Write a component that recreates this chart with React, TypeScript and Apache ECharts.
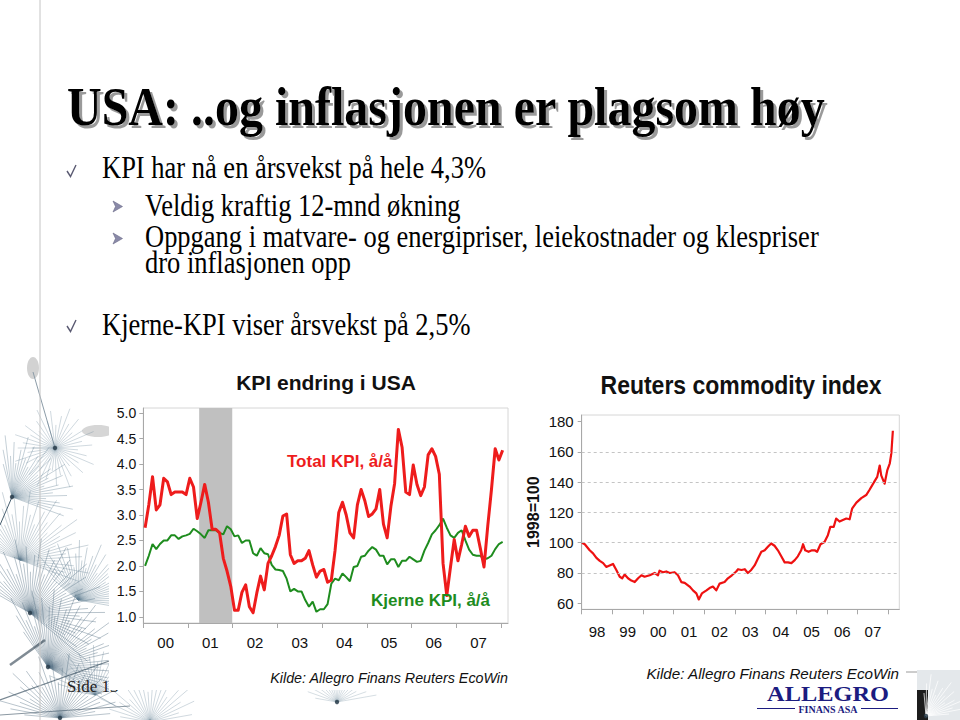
import React, { useEffect, useRef } from "react";
import * as echarts from "echarts";

// ---------- Left chart: KPI endring i USA (monthly, Jan 2000 - Jan 2008) ----------
const kpiYearLabels = ["00", "01", "02", "03", "04", "05", "06", "07"];
const kpiTotal = [
  2.75, 3.2, 3.75, 3.1, 3.2, 3.72, 3.65, 3.4, 3.45, 3.45, 3.45, 3.4,
  3.72, 3.55, 2.93, 3.25, 3.6, 3.25, 2.72, 2.72, 2.65, 2.15, 1.9, 1.6,
  1.13, 1.13, 1.48, 1.63, 1.2, 1.08, 1.47, 1.8, 1.53, 2.05, 2.2, 2.38,
  2.6, 2.98, 3.02, 2.22, 2.05, 2.1, 2.1, 2.15, 2.3, 2.02, 1.78, 1.9,
  1.93, 1.68, 1.72, 2.3, 3.05, 3.25, 3.0, 2.65, 2.55, 3.2, 3.5, 3.28,
  2.97, 3.02, 3.12, 3.5, 2.82, 2.55, 3.17, 3.62, 4.68, 4.33, 3.45, 3.4,
  3.98, 3.6, 3.38, 3.55, 4.18, 4.3, 4.15, 3.8, 2.05, 1.42, 1.98, 2.52,
  2.1, 2.42, 2.78, 2.58, 2.7, 2.7, 2.35, 1.98, 2.78, 3.5, 4.3, 4.08,
  4.27,
];
const kpiCore = [
  2.0, 2.2, 2.43, 2.33, 2.43, 2.5, 2.5, 2.6, 2.6, 2.53, 2.58, 2.6,
  2.63, 2.73, 2.68, 2.62, 2.55, 2.7, 2.7, 2.7, 2.65, 2.62, 2.78, 2.72,
  2.58, 2.6, 2.45, 2.5, 2.5, 2.25, 2.2, 2.35, 2.25, 2.23, 2.02, 1.93,
  1.92, 1.9, 1.75, 1.5, 1.55, 1.5, 1.5, 1.33, 1.2, 1.3, 1.1, 1.15,
  1.15, 1.25, 1.65, 1.75, 1.72, 1.85, 1.78, 1.7, 1.98, 2.0, 2.18, 2.2,
  2.3, 2.37, 2.32, 2.2, 2.2, 2.03, 2.13, 2.13, 1.98, 2.1, 2.1, 2.18,
  2.13, 2.08, 2.1, 2.3, 2.45, 2.62, 2.7, 2.8, 2.93, 2.75, 2.6, 2.55,
  2.65, 2.7, 2.5, 2.32, 2.22, 2.2, 2.2, 2.13, 2.15, 2.2, 2.33, 2.43,
  2.47,
];
const kpiStartYear = 2000;
const recessionStart = 2001.25;
const recessionEnd = 2001.99;
const kpiYTicks = [1.0, 1.5, 2.0, 2.5, 3.0, 3.5, 4.0, 4.5, 5.0];

// ---------- Right chart: Reuters commodity index (1998=100) ----------
const comYearLabels = ["98", "99", "00", "01", "02", "03", "04", "05", "06", "07"];
const comDates = [
  1998.01, 1998.1, 1998.26, 1998.37, 1998.48, 1998.59, 1998.7, 1998.8, 1998.91,
  1999.02, 1999.13, 1999.24, 1999.32, 1999.4, 1999.51, 1999.62, 1999.73, 1999.84, 1999.95,
  2000.05, 2000.22, 2000.38, 2000.49, 2000.54, 2000.65, 2000.76, 2000.87,
  2001.03, 2001.14, 2001.25, 2001.36, 2001.52, 2001.63, 2001.74, 2001.82, 2001.92,
  2002.07, 2002.17, 2002.28, 2002.39, 2002.5, 2002.66, 2002.77, 2002.9,
  2003.04, 2003.1, 2003.21, 2003.32, 2003.42, 2003.53, 2003.64, 2003.75, 2003.86, 2003.97,
  2004.08, 2004.18, 2004.29, 2004.4, 2004.51, 2004.62, 2004.73, 2004.84, 2004.95,
  2005.05, 2005.16, 2005.22, 2005.29, 2005.4, 2005.51, 2005.6, 2005.68, 2005.79, 2005.92,
  2006.03, 2006.11, 2006.22, 2006.3, 2006.41, 2006.52, 2006.63, 2006.74, 2006.82, 2006.96,
  2007.12, 2007.28, 2007.39, 2007.55, 2007.64, 2007.72, 2007.77, 2007.88, 2007.97,
  2008.05, 2008.1, 2008.15,
];
const comValues = [
  100, 99, 95, 93, 90, 88, 86.5, 84, 85,
  86, 82, 77.5, 76.5, 79, 76.5, 75, 74, 76.5, 78.5,
  77.5, 78.5, 80, 78.5, 81.5, 80.5, 81, 80,
  80.5, 78.5, 74, 73.5, 71, 68.5, 66.5, 62.5, 66.5,
  68.5, 70, 71, 68.5, 73, 74, 76.5, 78.5,
  81, 82.5, 82, 82.5, 80, 82, 85, 89.5, 94, 95,
  97.5, 99.5, 98, 95, 91, 87, 87, 86.5, 88.5,
  91, 95, 99, 95, 94, 95, 95, 94, 99, 100.5,
  105, 110.5, 110.5, 116, 114, 115, 116, 115.5, 122.5, 126.5,
  129.5, 131.5, 135, 140.5, 143.5, 151, 144.5, 139, 148,
  152.5, 159, 174,
];
const comStartYear = 1998;
const comYTicks = [60, 80, 100, 120, 140, 160, 180];
const comGridValues = [80, 100, 120, 140, 160];

// ---------- Slide texts ----------
const slideTitle = "USA: ..og inflasjonen er plagsom høy";
const bulletLines = [
  "KPI har nå en årsvekst på hele 4,3%",
  "Veldig kraftig 12-mnd økning",
  "Oppgang i matvare- og energipriser, leiekostnader og klespriser",
  "dro inflasjonen opp",
  "Kjerne-KPI viser årsvekst på 2,5%",
];
const sourceText = "Kilde: Allegro Finans Reuters EcoWin";

const SANS = '"Liberation Sans", Arial, sans-serif';
const SERIF = '"Liberation Serif", "Times New Roman", serif';

function seedLines(cx: number, cy: number, r: number, a0: number, a1: number, n: number, color: string, op: number, dot = true) {
  const out: any[] = [];
  for (let i = 0; i < n; i++) {
    const a = ((a0 + ((a1 - a0) * i) / Math.max(1, n - 1)) * Math.PI) / 180;
    const len = r * (0.55 + 0.45 * (((i * 7) % 5) / 4));
    out.push({
      type: "line",
      z: 0,
      silent: true,
      shape: { x1: cx, y1: cy, x2: cx + Math.cos(a) * len, y2: cy + Math.sin(a) * len },
      style: { stroke: color, lineWidth: 0.8, opacity: op },
    });
  }
  if (dot) out.push({ type: "circle", z: 0, silent: true, shape: { cx, cy, r: 2.2 }, style: { fill: "#2c3e4c", opacity: 0.85 } });
  return out;
}

export default function App() {
  const ref = useRef<HTMLDivElement>(null);

  useEffect(() => {
    if (!ref.current) return;
    const chart = echarts.init(ref.current, undefined, { renderer: "svg" });

    const totalData = kpiTotal.map((v, i) => [kpiStartYear + i / 12 + 0.04, v]);
    const coreData = kpiCore.map((v, i) => [kpiStartYear + i / 12 + 0.04, v]);
    const comData = comValues.map((v, i) => [comDates[i], v]);

    const kpiTickX = kpiYearLabels.map((_, i) => kpiStartYear + i).concat([kpiStartYear + kpiYearLabels.length]);
    const kpiLabelX = kpiYearLabels.map((_, i) => kpiStartYear + i + 0.5);
    const comTickX = comYearLabels.map((_, i) => comStartYear + i).concat([comStartYear + comYearLabels.length]);
    const comLabelX = comYearLabels.map((_, i) => comStartYear + i + 0.5);

    const deco: any[] = [];
    // left dandelions
    deco.push({ type: "ellipse", z: 0, silent: true, shape: { cx: 33, cy: 368, rx: 6, ry: 11 }, style: { fill: "#d2d2d2" } });
    deco.push({ type: "ellipse", z: 0, silent: true, shape: { cx: 98, cy: 431, rx: 16, ry: 6 }, style: { fill: "#d6d6d6" } });
    deco.push({ type: "line", z: 0, silent: true, shape: { x1: 33, y1: 372, x2: 55, y2: 448 }, style: { stroke: "#8c9ca8", lineWidth: 1 } });
    deco.push(...seedLines(55, 448, 42, -180, 180, 40, "#6a8699", 0.4));
    deco.push({ type: "line", z: 0, silent: true, shape: { x1: 12, y1: 497, x2: 0, y2: 525 }, style: { stroke: "#4a6070", lineWidth: 1 } });
    deco.push(...seedLines(12, 497, 62, -105, 20, 30, "#5d7b8f", 0.45));
    deco.push(...seedLines(20, 560, 70, -160, 20, 40, "#5d7b8f", 0.4, false));
    deco.push(...seedLines(30, 613, 75, -150, 40, 48, "#4f6c80", 0.5));
    deco.push(...seedLines(78, 600, 60, -140, 10, 36, "#5d7b8f", 0.45, false));
    deco.push(...seedLines(48, 667, 78, -125, 30, 48, "#4f6c80", 0.5));
    deco.push(...seedLines(60, 718, 65, -175, -5, 32, "#4f6c80", 0.5));
    deco.push(...seedLines(95, 695, 50, -170, -20, 24, "#5d7b8f", 0.4, false));
    deco.push(...seedLines(150, 722, 55, -170, -10, 22, "#6a8699", 0.4));
    deco.push(...seedLines(337, 702, 40, -170, -10, 18, "#6a8699", 0.35));
    deco.push({ type: "line", z: 0, silent: true, shape: { x1: 0, y1: 700, x2: 140, y2: 650 }, style: { stroke: "#3e5464", lineWidth: 1.3, opacity: 0.7 } });
    deco.push({ type: "line", z: 0, silent: true, shape: { x1: 0, y1: 715, x2: 130, y2: 706 }, style: { stroke: "#3e5464", lineWidth: 1, opacity: 0.6 } });
    deco.push({ type: "line", z: 0, silent: true, shape: { x1: 10, y1: 665, x2: 45, y2: 640 }, style: { stroke: "#2c3e4c", lineWidth: 2.5, opacity: 0.6 } });
    // right-bottom dandelion image
    deco.push({ type: "rect", z: 0, silent: true, shape: { x: 917, y: 670, width: 43, height: 50 }, style: { fill: "#e4e8eb" } });
    deco.push({ type: "rect", z: 0, silent: true, shape: { x: 917, y: 690, width: 11, height: 30 }, style: { fill: "#1c1c1c" } });
    deco.push(...seedLines(926, 716, 42, -95, -5, 16, "#ffffff", 0.9));
    deco.push({ type: "line", z: 0, silent: true, shape: { x1: 906, y1: 672, x2: 917, y2: 672 }, style: { stroke: "#9a9a9a", lineWidth: 1 } });

    const graphic: any[] = [
      ...deco,
      { type: "line", z: 0.6, silent: true, shape: { x1: 40, y1: 0, x2: 40, y2: 720 }, style: { stroke: "#c4c4c4", lineWidth: 1 } },
      { type: "text", z: 0.2, x: 67, y: 686, style: { text: "Side 13", fill: "#222", fontSize: 17, fontFamily: SERIF, align: "left", verticalAlign: "middle" } },
      { type: "text", z: 0.2, x: 828, y: 694, scaleX: 1.22, style: { text: "ALLEGRO", fill: "#1c1c80", fontSize: 20, fontWeight: "bold", fontFamily: SERIF, align: "center", verticalAlign: "middle" } },
      { type: "text", z: 0.2, x: 828, y: 709, style: { text: "FINANS ASA", fill: "#1c1c80", fontSize: 10, fontWeight: "bold", fontFamily: SERIF, align: "center", verticalAlign: "middle" } },
      { type: "line", z: 0.2, silent: true, shape: { x1: 757, y1: 708.5, x2: 795, y2: 708.5 }, style: { stroke: "#1c1c80", lineWidth: 1 } },
      { type: "line", z: 0.2, silent: true, shape: { x1: 861, y1: 708.5, x2: 898, y2: 708.5 }, style: { stroke: "#1c1c80", lineWidth: 1 } },
      // white chart image boxes
      { type: "rect", z: 0.4, silent: true, shape: { x: 109, y: 362, width: 411, height: 328 }, style: { fill: "#ffffff" } },
      { type: "rect", z: 0.4, silent: true, shape: { x: 520, y: 362, width: 386, height: 322 }, style: { fill: "#ffffff" } },
      // slide title
      {
        type: "text", z: 5, x: 67, y: 106.5, scaleY: 1.15,
        style: {
          text: slideTitle, fill: "#000", fontSize: 48, fontWeight: "bold", fontFamily: SERIF,
          align: "left", verticalAlign: "middle",
          shadowColor: "rgba(120,120,120,0.75)", shadowOffsetX: 3, shadowOffsetY: 3, shadowBlur: 1,
          textShadowColor: "rgba(120,120,120,0.75)", textShadowOffsetX: 3, textShadowOffsetY: 3, textShadowBlur: 1,
        },
      },
      // bullets
      { type: "text", z: 5, x: 102, y: 167.5, scaleY: 1.22, style: { text: bulletLines[0], fill: "#000", fontSize: 26.5, fontFamily: SERIF, align: "left", verticalAlign: "middle" } },
      { type: "text", z: 5, x: 145, y: 205, scaleY: 1.22, style: { text: bulletLines[1], fill: "#000", fontSize: 26.5, fontFamily: SERIF, align: "left", verticalAlign: "middle" } },
      { type: "text", z: 5, x: 145, y: 236, scaleY: 1.22, style: { text: bulletLines[2], fill: "#000", fontSize: 26.5, fontFamily: SERIF, align: "left", verticalAlign: "middle" } },
      { type: "text", z: 5, x: 145, y: 262, scaleY: 1.22, style: { text: bulletLines[3], fill: "#000", fontSize: 26.5, fontFamily: SERIF, align: "left", verticalAlign: "middle" } },
      { type: "text", z: 5, x: 102, y: 324, scaleY: 1.22, style: { text: bulletLines[4], fill: "#000", fontSize: 26.5, fontFamily: SERIF, align: "left", verticalAlign: "middle" } },
      // check marks
      { type: "polyline", z: 5, silent: true, shape: { points: [[67, 171], [70.5, 176.5], [76, 165]] }, style: { stroke: "#5a5a72", lineWidth: 1.4, fill: "none" } },
      { type: "polyline", z: 5, silent: true, shape: { points: [[67, 326], [70.5, 331.5], [76, 320]] }, style: { stroke: "#5a5a72", lineWidth: 1.4, fill: "none" } },
      // arrow bullets
      { type: "polygon", z: 5, silent: true, shape: { points: [[113, 201], [122.5, 206.5], [113, 212], [115.5, 206.5]] }, style: { fill: "#8a8aa8", stroke: "#6a6a88", lineWidth: 0.6 } },
      { type: "polygon", z: 5, silent: true, shape: { points: [[113, 233], [122.5, 238.5], [113, 244], [115.5, 238.5]] }, style: { fill: "#8a8aa8", stroke: "#6a6a88", lineWidth: 0.6 } },
      // chart titles
      { type: "text", z: 5, x: 326, y: 382, style: { text: "KPI endring i USA", fill: "#111", fontSize: 21, fontWeight: "bold", fontFamily: SANS, align: "center", verticalAlign: "middle" } },
      { type: "text", z: 5, x: 741, y: 385, scaleY: 1.1, style: { text: "Reuters commodity index", fill: "#111", fontSize: 23, fontWeight: "bold", fontFamily: SANS, align: "center", verticalAlign: "middle" } },
      // series labels
      { type: "text", z: 5, x: 287, y: 461, style: { text: "Total KPI, å/å", fill: "#ee1c1c", fontSize: 17, fontWeight: "bold", fontFamily: SANS, align: "left", verticalAlign: "middle" } },
      { type: "text", z: 5, x: 371, y: 600, style: { text: "Kjerne KPI, å/å", fill: "#1e8c1e", fontSize: 17, fontWeight: "bold", fontFamily: SANS, align: "left", verticalAlign: "middle" } },
      // sources
      { type: "text", z: 5, x: 508, y: 678, style: { text: sourceText, fill: "#111", fontSize: 14.3, fontStyle: "italic", fontFamily: SANS, align: "right", verticalAlign: "middle" } },
      { type: "text", z: 5, x: 899, y: 673, style: { text: sourceText, fill: "#111", fontSize: 15.2, fontStyle: "italic", fontFamily: SANS, align: "right", verticalAlign: "middle" } },
    ];

    const axisGray = "#a8a8a8";

    chart.setOption({
      animation: false,
      backgroundColor: "transparent",
      graphic,
      grid: [
        { left: 143.3, top: 408, width: 364.7, height: 215, show: true, backgroundColor: "#fff", borderColor: "#d6d6d6", borderWidth: 1, z: 1 },
        { left: 581.7, top: 415, width: 317.6, height: 194.3, show: true, backgroundColor: "#fff", borderColor: "#d6d6d6", borderWidth: 1, z: 1 },
      ],
      xAxis: [
        {
          type: "value", gridIndex: 0, min: 2000, max: 2008.16, z: 2,
          axisLine: { show: true, onZero: false, lineStyle: { color: axisGray } },
          axisTick: { show: true, customValues: kpiTickX, length: 5, lineStyle: { color: axisGray } },
          axisLabel: {
            customValues: kpiLabelX, margin: 12, fontSize: 15, color: "#111", fontFamily: SANS,
            formatter: (v: number) => kpiYearLabels[Math.round(v - kpiStartYear - 0.5)] ?? "",
          },
          splitLine: { show: false },
        },
        {
          type: "value", gridIndex: 1, min: 1998, max: 2008.36, z: 2,
          axisLine: { show: true, onZero: false, lineStyle: { color: axisGray } },
          axisTick: { show: true, customValues: comTickX, length: 5, lineStyle: { color: axisGray } },
          axisLabel: {
            customValues: comLabelX, margin: 15, fontSize: 15, color: "#111", fontFamily: SANS,
            formatter: (v: number) => comYearLabels[Math.round(v - comStartYear - 0.5)] ?? "",
          },
          splitLine: { show: false },
        },
      ],
      yAxis: [
        {
          type: "value", gridIndex: 0, min: 0.88, max: 5.1, z: 2,
          axisLine: { show: true, onZero: false, lineStyle: { color: axisGray } },
          axisTick: { show: true, customValues: kpiYTicks, length: 4, lineStyle: { color: axisGray } },
          axisLabel: { customValues: kpiYTicks, margin: 7, fontSize: 14, color: "#111", fontFamily: SANS, formatter: (v: number) => v.toFixed(1) },
          splitLine: { show: false },
        },
        {
          type: "value", gridIndex: 1, min: 56, max: 184.4, z: 2,
          name: "1998=100", nameLocation: "middle", nameRotate: 90, nameGap: 40,
          nameTextStyle: { fontSize: 16, fontWeight: "bold", color: "#111", fontFamily: SANS },
          axisLine: { show: true, onZero: false, lineStyle: { color: axisGray } },
          axisTick: { show: true, customValues: comYTicks, length: 4, lineStyle: { color: axisGray } },
          axisLabel: { customValues: comYTicks, margin: 8, fontSize: 15, color: "#111", fontFamily: SANS },
          splitLine: { show: false },
        },
      ],
      series: [
        {
          type: "line", xAxisIndex: 0, yAxisIndex: 0, data: [], z: 2, silent: true,
          markArea: { silent: true, itemStyle: { color: "#c0c0c0", opacity: 1 }, data: [[{ xAxis: recessionStart }, { xAxis: recessionEnd }]] },
        },
        {
          name: "Kjerne KPI", type: "line", xAxisIndex: 0, yAxisIndex: 0, data: coreData, z: 3,
          symbol: "none", showSymbol: false, lineStyle: { color: "#1e8c1e", width: 2 },
        },
        {
          name: "Total KPI", type: "line", xAxisIndex: 0, yAxisIndex: 0, data: totalData, z: 4,
          symbol: "none", showSymbol: false, lineStyle: { color: "#ee1c1c", width: 3, join: "round" },
        },
        {
          type: "line", xAxisIndex: 1, yAxisIndex: 1, data: [], z: 2, silent: true,
          markLine: {
            silent: true, symbol: ["none", "none"], label: { show: false },
            lineStyle: { type: [3, 3], color: "#c4c4c4", width: 1 },
            data: comGridValues.map((v) => ({ yAxis: v })),
          },
        },
        {
          name: "Reuters commodity index", type: "line", xAxisIndex: 1, yAxisIndex: 1, data: comData, z: 4,
          symbol: "none", showSymbol: false, lineStyle: { color: "#ee1111", width: 2.2, join: "round" },
        },
      ],
    });

    return () => chart.dispose();
  }, []);

  return (
    <div
      ref={ref}
      style={{ position: "fixed", left: 0, top: 0, width: 960, height: 720, background: "#fff" }}
    />
  );
}
